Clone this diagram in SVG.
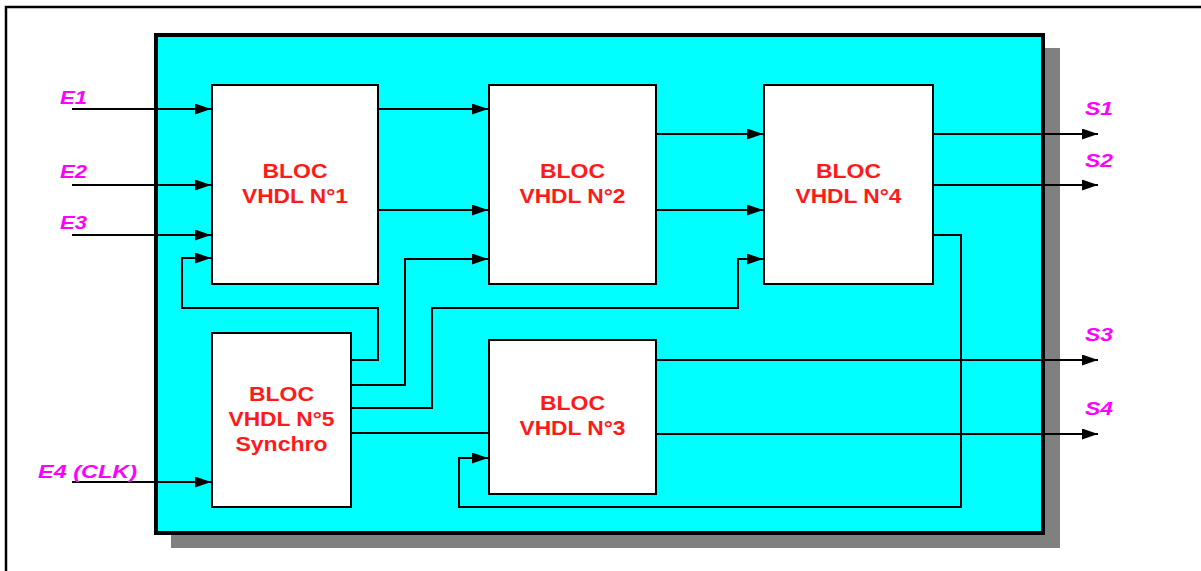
<svg xmlns="http://www.w3.org/2000/svg" width="1201" height="571" viewBox="0 0 1201 571">
<defs>
<marker id="arr" markerUnits="userSpaceOnUse" markerWidth="16" markerHeight="11" refX="16" refY="5.5" orient="auto">
<path d="M0,0 L16,5.5 L0,11 Z" fill="#000"/>
</marker>
<style>
.blk{fill:#fff;stroke:#000;stroke-width:2}
.t{font-family:"Liberation Sans",Arial,sans-serif;font-weight:bold;font-size:21px;fill:#ff1a1a;text-anchor:middle}
.lbl{font-family:"Liberation Sans",Arial,sans-serif;font-weight:bold;font-style:italic;font-size:19px;fill:#ff00ff}
.c{fill:none;stroke:#000;stroke-width:2}
.a{marker-end:url(#arr)}
</style>
</defs>
<rect width="1201" height="571" fill="#fff"/>
<path d="M6,575 V7 H1205" fill="none" stroke="#000" stroke-width="2.5"/>
<rect x="171" y="48" width="889" height="500" fill="#808080"/>
<rect x="156" y="35" width="887" height="498" fill="#00ffff" stroke="#000" stroke-width="4"/>
<g id="connectors">
<path class="c a" d="M72,109 H211"/>
<path class="c a" d="M72,185 H211"/>
<path class="c a" d="M72,235 H211"/>
<path class="c a" d="M72,482 H211"/>
<path class="c a" d="M351,360 H378 V308 H182 V258 H211"/>
<path class="c a" d="M378,109 H488"/>
<path class="c a" d="M378,210 H488"/>
<path class="c a" d="M351,385 H405 V259 H488"/>
<path class="c a" d="M351,408 H432 V308 H738 V259 H763"/>
<path class="c" d="M351,433 H489"/>
<path class="c a" d="M656,134 H763"/>
<path class="c a" d="M656,210 H763"/>
<path class="c a" d="M933,134 H1098"/>
<path class="c a" d="M933,185 H1098"/>
<path class="c a" d="M656,360 H1098"/>
<path class="c a" d="M656,434 H1098"/>
<path class="c a" d="M933,235 H961 V507 H459 V458 H488"/>
</g>
<g id="bloc1">
<rect class="blk" x="212" y="85" width="166" height="199"/>
<text class="t" x="295" y="178" textLength="65" lengthAdjust="spacingAndGlyphs">BLOC</text>
<text class="t" x="295" y="203" textLength="106" lengthAdjust="spacingAndGlyphs">VHDL N°1</text>
</g>
<g id="bloc2">
<rect class="blk" x="489" y="85" width="167" height="199"/>
<text class="t" x="572.5" y="178" textLength="65" lengthAdjust="spacingAndGlyphs">BLOC</text>
<text class="t" x="572.5" y="203" textLength="106" lengthAdjust="spacingAndGlyphs">VHDL N°2</text>
</g>
<g id="bloc4">
<rect class="blk" x="764" y="85" width="169" height="199"/>
<text class="t" x="848.5" y="178" textLength="65" lengthAdjust="spacingAndGlyphs">BLOC</text>
<text class="t" x="848.5" y="203" textLength="106" lengthAdjust="spacingAndGlyphs">VHDL N°4</text>
</g>
<g id="bloc5">
<rect class="blk" x="212" y="333" width="139" height="174"/>
<text class="t" x="281.5" y="401" textLength="65" lengthAdjust="spacingAndGlyphs">BLOC</text>
<text class="t" x="281.5" y="426" textLength="106" lengthAdjust="spacingAndGlyphs">VHDL N°5</text>
<text class="t" x="281.5" y="451" textLength="92" lengthAdjust="spacingAndGlyphs">Synchro</text>
</g>
<g id="bloc3">
<rect class="blk" x="489" y="340" width="167" height="154"/>
<text class="t" x="572.5" y="410" textLength="65" lengthAdjust="spacingAndGlyphs">BLOC</text>
<text class="t" x="572.5" y="435" textLength="106" lengthAdjust="spacingAndGlyphs">VHDL N°3</text>
</g>
<g id="labels">
<text class="lbl" x="60" y="104" textLength="27" lengthAdjust="spacingAndGlyphs">E1</text>
<text class="lbl" x="60" y="178" textLength="27" lengthAdjust="spacingAndGlyphs">E2</text>
<text class="lbl" x="60" y="229" textLength="27" lengthAdjust="spacingAndGlyphs">E3</text>
<text class="lbl" x="38" y="478" textLength="99" lengthAdjust="spacingAndGlyphs">E4 (CLK)</text>
<text class="lbl" x="1085" y="115" textLength="28" lengthAdjust="spacingAndGlyphs">S1</text>
<text class="lbl" x="1085" y="167" textLength="28" lengthAdjust="spacingAndGlyphs">S2</text>
<text class="lbl" x="1085" y="341" textLength="28" lengthAdjust="spacingAndGlyphs">S3</text>
<text class="lbl" x="1085" y="415" textLength="28" lengthAdjust="spacingAndGlyphs">S4</text>
</g>
</svg>
